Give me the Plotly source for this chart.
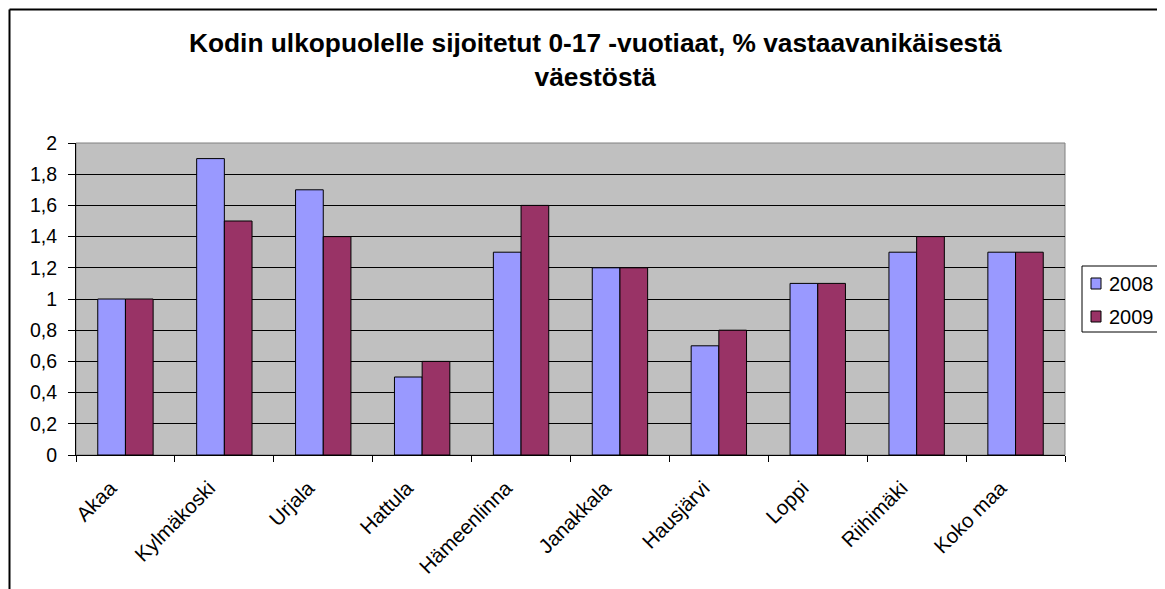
import plotly.graph_objects as go

# data
kunnat = ["Akaa", "Kylmäkoski", "Urjala", "Hattula", "Hämeenlinna",
          "Janakkala", "Hausjärvi", "Loppi", "Riihimäki", "Koko maa"]
vuodet = ["2008", "2009"]
v2008 = [1.0, 1.9, 1.7, 0.5, 1.3, 1.2, 0.7, 1.1, 1.3, 1.3]
v2009 = [1.0, 1.5, 1.4, 0.6, 1.6, 1.2, 0.8, 1.1, 1.4, 1.3]
y_ticks = [0, 0.2, 0.4, 0.6, 0.8, 1, 1.2, 1.4, 1.6, 1.8, 2]
y_labels = ["0", "0,2", "0,4", "0,6", "0,8", "1", "1,2", "1,4", "1,6", "1,8", "2"]
varit = ["#9999FF", "#993366"]

# the page has an 8px body margin, so the figure is drawn 8px smaller
OFF = 8
W, H = 1165 - OFF, 589 - OFF
L, T = 76 - OFF, 143 - OFF
R = W - (1065 - OFF)
B = H - (455 - OFF)
pw, ph = W - L - R, H - T - B


def xp(x):
    # screen x of the reference -> paper coordinate
    return (x - 76) / pw


def yp(y):
    # screen y of the reference -> paper coordinate
    return (455 - y) / ph


fig = go.Figure()

for nimi, arvot, vari in zip(vuodet, [v2008, v2009], varit):
    fig.add_trace(go.Bar(
        x=kunnat, y=arvot, name=nimi,
        marker=dict(color=vari, line=dict(color="black", width=1))
    ))

fig.update_layout(
    width=W, height=H,
    margin=dict(l=L, r=R, t=T, b=B),
    paper_bgcolor="white",
    plot_bgcolor="#C0C0C0",
    font=dict(family="Liberation Sans, Arial, sans-serif", size=17, color="black"),
    barmode="group",
    bargap=0.44,
    bargroupgap=0.0,
    showlegend=False,
)

fig.update_xaxes(
    type="category",
    tickangle=-45,
    tickson="boundaries",
    ticks="outside", ticklen=6, tickcolor="black",
    showline=True, linecolor="black", linewidth=1,
    showgrid=False,
    tickfont=dict(size=20.5),
    ticklabelshift=-15,
    ticklabelstandoff=12,
)
fig.update_yaxes(
    range=[0, 2],
    tickvals=y_ticks, ticktext=y_labels,
    ticks="outside", ticklen=7, tickcolor="black",
    showline=True, linecolor="black", linewidth=1,
    showgrid=True, gridcolor="black", gridwidth=1,
    zeroline=False,
    tickfont=dict(size=19.5),
    ticklabelstandoff=7,
)

# title as two centred lines
fig.add_annotation(
    text="<b>Kodin ulkopuolelle sijoitetut 0-17 -vuotiaat, % vastaavanikäisestä<br>väestöstä</b>",
    xref="paper", yref="paper",
    x=xp(595), y=yp(26),
    xanchor="center", yanchor="top",
    showarrow=False, align="center",
    font=dict(size=26.3, color="black"),
)

# gray plot frame (top/right)
fig.add_shape(type="rect", xref="paper", yref="paper", x0=0, y0=0, x1=1, y1=1,
              line=dict(color="#808080", width=1), layer="below")
# outer chart border: only left and top edges are visible
fig.add_shape(type="line", xref="paper", yref="paper",
              x0=xp(9.5), y0=yp(9.5), x1=xp(9.5), y1=yp(600),
              line=dict(color="black", width=2))
fig.add_shape(type="line", xref="paper", yref="paper",
              x0=xp(9.5), y0=yp(9.5), x1=xp(1170), y1=yp(9.5),
              line=dict(color="black", width=2))

# legend box drawn by hand (Excel style, small squares)
fig.add_shape(type="rect", xref="paper", yref="paper",
              x0=xp(1082), y0=yp(332), x1=xp(1161), y1=yp(266),
              line=dict(color="black", width=1), fillcolor="white")
for i, (nimi, vari) in enumerate(zip(vuodet, varit)):
    yc = 283.5 + i * 33
    fig.add_shape(type="rect", xref="paper", yref="paper",
                  x0=xp(1091), y0=yp(yc + 5.5), x1=xp(1101), y1=yp(yc - 5.5),
                  line=dict(color="black", width=1), fillcolor=vari)
    fig.add_annotation(
        text=nimi, xref="paper", yref="paper",
        x=xp(1107), y=yp(yc), xanchor="left", yanchor="middle",
        showarrow=False, font=dict(size=20, color="black"),
    )

fig.write_html("out.html")
